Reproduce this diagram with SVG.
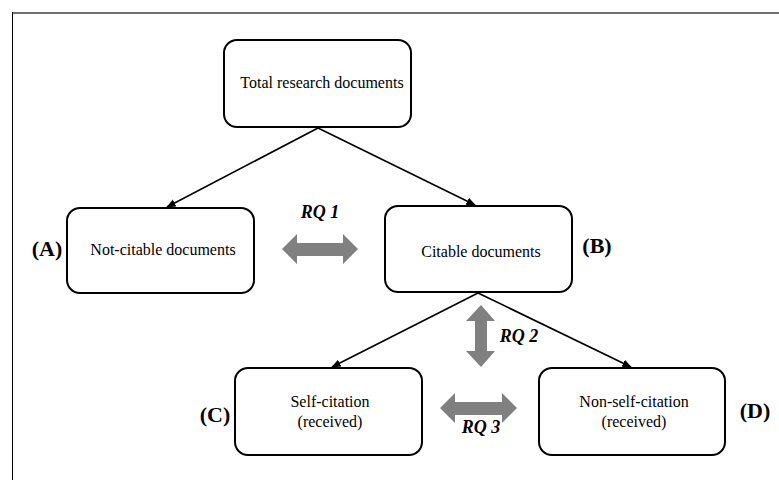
<svg xmlns="http://www.w3.org/2000/svg" width="779" height="480" viewBox="0 0 779 480">
<style>
.box{fill:#fff;stroke:#000;stroke-width:2}
.t{font-family:"Liberation Serif","Times New Roman",serif;font-size:16px;fill:#000;text-anchor:middle}
.lab{font-family:"Liberation Serif","Times New Roman",serif;font-size:22px;font-weight:bold;fill:#000;text-anchor:middle}
.rq{font-family:"Liberation Serif","Times New Roman",serif;font-size:18px;font-weight:bold;font-style:italic;fill:#000;text-anchor:middle}
.con{stroke:#000;stroke-width:1.6;fill:none;marker-end:url(#ah)}
.dbl{fill:#808080}
</style>
<defs>
<marker id="ah" viewBox="0 0 10 10" refX="9" refY="5" markerWidth="6" markerHeight="6" orient="auto" markerUnits="strokeWidth">
<path d="M0,1 L10,5 L0,9 Z" fill="#000"/>
</marker>
</defs>
<rect width="779" height="480" fill="#fff"/>
<g id="frame">
<line x1="12" y1="13" x2="779" y2="13" stroke="#707070" stroke-width="2"/>
<line x1="12.5" y1="12" x2="12.5" y2="480" stroke="#000" stroke-width="1"/>
</g>
<g id="connectors">
<line class="con" x1="318" y1="128" x2="167" y2="207"/>
<line class="con" x1="318" y1="128" x2="475" y2="205"/>
<line class="con" x1="478" y1="293" x2="332" y2="367"/>
<line class="con" x1="478" y1="293" x2="631" y2="367"/>
</g>
<g id="rq1">
<path class="dbl" d="M282,249 L297,234 L297,243 L343,243 L343,234 L358,249 L343,264 L343,256 L297,256 L297,264 Z"/>
<text class="rq" x="320" y="218">RQ 1</text>
</g>
<g id="rq2">
<path class="dbl" d="M481,305 L495,321 L487,321 L487,351 L495,351 L481,367 L466,351 L475,351 L475,321 L466,321 Z"/>
<text class="rq" x="519" y="342">RQ 2</text>
</g>
<g id="rq3">
<path class="dbl" d="M440,408 L455,393 L455,402 L502,402 L502,393 L517,408 L502,423 L502,415 L455,415 L455,423 Z"/>
<text class="rq" x="481" y="433">RQ 3</text>
</g>
<g id="total">
<rect class="box" x="224" y="40" width="187" height="87" rx="13"/>
<text class="t" x="322" y="88">Total research documents</text>
</g>
<g id="nodeA">
<rect class="box" x="67" y="208" width="187" height="85" rx="13"/>
<text class="t" x="163" y="255">Not-citable documents</text>
<text class="lab" x="47" y="256">(A)</text>
</g>
<g id="nodeB">
<rect class="box" x="385" y="206" width="187" height="86" rx="13"/>
<text class="t" x="481" y="257">Citable documents</text>
<text class="lab" x="597" y="253">(B)</text>
</g>
<g id="nodeC">
<rect class="box" x="235" y="368" width="187" height="87" rx="13"/>
<text class="t" x="330" y="407">Self-citation</text>
<text class="t" x="330" y="427">(received)</text>
<text class="lab" x="215" y="422">(C)</text>
</g>
<g id="nodeD">
<rect class="box" x="539" y="368" width="186" height="87" rx="13"/>
<text class="t" x="634" y="407">Non-self-citation</text>
<text class="t" x="634" y="427">(received)</text>
<text class="lab" x="755" y="418">(D)</text>
</g>
</svg>
